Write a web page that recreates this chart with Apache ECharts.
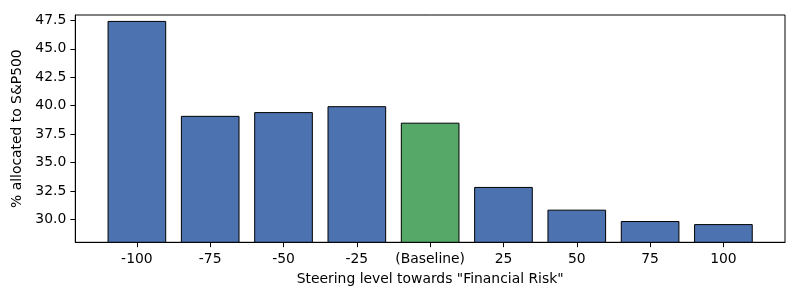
<!DOCTYPE html>
<html><head><meta charset="utf-8">
<script src="https://cdn.jsdelivr.net/npm/echarts@6/dist/echarts.min.js"></script>
<style>html,body{margin:0;padding:0;background:#fff}#c{width:800px;height:300px}</style>
</head><body><div id="c"></div>
<script>
const categories = ['-100', '-75', '-50', '-25', '(Baseline)', '25', '50', '75', '100'];
const values = [47.45, 39.1, 39.43, 39.95, 38.5, 32.85, 30.85, 29.85, 29.58];
const baselineIndex = 4;
const yTicks = [30.0, 32.5, 35.0, 37.5, 40.0, 42.5, 45.0, 47.5];

const BLUE = '#4C72B0', GREEN = '#55A868';
const font = 'DejaVu Sans';
const chart = echarts.init(document.getElementById('c'), null, {renderer: 'canvas'});
const xMin = -0.84, xMax = categories.length - 1 + 0.84;
const gridW = 800 - 75.3 - 15;
const band = gridW / (xMax - xMin);

chart.setOption({
  animation: false,
  grid: {left: 75.3, right: 15, top: 15, bottom: 57.7, show: true, borderColor: '#000', borderWidth: 1, containLabel: false},
  xAxis: {
    type: 'value', min: xMin, max: xMax,
    name: 'Steering level towards "Financial Risk"', nameLocation: 'middle', nameGap: 30,
    nameTextStyle: {fontFamily: font, fontSize: 13.9, color: '#000'},
    axisLine: {show: true, onZero: false, lineStyle: {color: '#000', width: 1}},
    axisTick: {show: true, inside: false, length: 4.9, lineStyle: {color: '#000', width: 1}, customValues: categories.map((_, i) => i)},
    axisLabel: {fontFamily: font, fontSize: 13.9, color: '#000', margin: 10, customValues: categories.map((_, i) => i), formatter: v => categories[Math.round(v)]},
    splitLine: {show: false}
  },
  yAxis: {
    type: 'value', min: 27.98, max: 47.97,
    name: '% allocated to S&P500', nameLocation: 'middle', nameGap: 41,
    nameTextStyle: {fontFamily: font, fontSize: 13.9, color: '#000'},
    axisLine: {show: true, onZero: false, lineStyle: {color: '#000', width: 1}},
    axisTick: {show: true, inside: false, length: 4.9, lineStyle: {color: '#000', width: 1}, customValues: yTicks},
    axisLabel: {fontFamily: font, fontSize: 13.9, color: '#000', margin: 9, customValues: yTicks, formatter: v => v.toFixed(1)},
    splitLine: {show: false}
  },
  series: [{
    type: 'bar',
    barWidth: band * 0.8,
    data: values.map((v, i) => ({value: [i, v], itemStyle: {color: i === baselineIndex ? GREEN : BLUE}})),
    itemStyle: {borderColor: '#000', borderWidth: 1},
    emphasis: {disabled: true}
  }]
});
</script></body></html>
